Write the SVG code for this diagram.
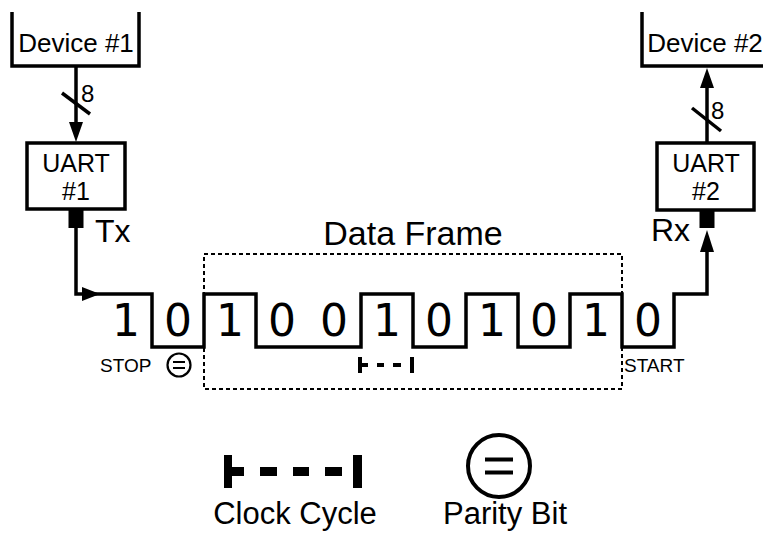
<svg xmlns="http://www.w3.org/2000/svg" width="763" height="534" viewBox="0 0 763 534">
  <style>
    .lbl { font-family: "Liberation Sans", Arial, sans-serif; fill: #000; }
    .bit { font-family: "DejaVu Sans", sans-serif; font-size: 44px; fill: #000; text-anchor: middle; }
    .wire { fill: none; stroke: #000; stroke-width: 3.5; stroke-linejoin: miter; }
    .box { fill: #fff; stroke: #000; stroke-width: 3.5; }
    .frame { fill: none; stroke: #000; stroke-width: 2; stroke-dasharray: 4 3; }
    .thin { fill: none; stroke: #000; stroke-width: 2.2; }
  </style>

  <!-- Device #1: open-top tray -->
  <g id="device1">
    <path class="wire" d="M12,12 V66 H139 V12"/>
    <text class="lbl" x="76" y="52" font-size="26" text-anchor="middle">Device #1</text>
  </g>

  <!-- Device #2: open-top tray, right edge runs off the canvas -->
  <g id="device2">
    <path class="wire" d="M642,12 V66 H772 V12"/>
    <text class="lbl" x="705" y="52" font-size="26" text-anchor="middle">Device #2</text>
  </g>

  <!-- UART #1 with Tx pin -->
  <g id="uart1">
    <rect class="box" x="27" y="143" width="98" height="66"/>
    <text class="lbl" x="76" y="172" font-size="25" text-anchor="middle">UART</text>
    <text class="lbl" x="76" y="200" font-size="25" text-anchor="middle">#1</text>
    <rect x="68.5" y="209" width="15" height="19" fill="#000"/>
    <text class="lbl" x="95" y="242" font-size="32">Tx</text>
  </g>

  <!-- UART #2 with Rx pin -->
  <g id="uart2">
    <rect class="box" x="657" y="143" width="97" height="67"/>
    <text class="lbl" x="706" y="172" font-size="25" text-anchor="middle">UART</text>
    <text class="lbl" x="706" y="200" font-size="25" text-anchor="middle">#2</text>
    <rect x="699.5" y="210" width="15" height="18" fill="#000"/>
    <text class="lbl" x="651" y="241" font-size="32">Rx</text>
  </g>

  <!-- Data frame boundary -->
  <g id="data-frame">
    <rect class="frame" x="204" y="254" width="418" height="135"/>
    <text class="lbl" x="413" y="245" font-size="34" text-anchor="middle">Data Frame</text>
  </g>

  <!-- Connectors: parallel buses and the serial line -->
  <g id="connectors">
    <!-- 8-bit bus Device #1 -> UART #1 -->
    <line class="wire" x1="76" y1="66" x2="76" y2="124"/>
    <polygon points="69,122 83,122 76,142" fill="#000"/>
    <line class="wire" x1="62" y1="93" x2="90" y2="114"/>
    <text class="lbl" x="81" y="102" font-size="24">8</text>

    <!-- 8-bit bus UART #2 -> Device #2 -->
    <line class="wire" x1="707" y1="143" x2="707" y2="86"/>
    <polygon points="700,88 714,88 707,68" fill="#000"/>
    <line class="wire" x1="692" y1="108" x2="721" y2="131"/>
    <text class="lbl" x="711" y="119" font-size="24">8</text>

    <!-- serial waveform from Tx to Rx -->
    <path class="wire" d="M76,228 V294 H152 V347 H204 V294 H256 V347 H361 V294 H413 V347 H466 V294 H518 V347 H570 V294 H622 V347 H674 V294 H707 V250"/>
    <polygon points="82,287 82,301 100,294" fill="#000"/>
    <polygon points="700,252 714,252 707,230" fill="#000"/>
  </g>

  <!-- Bit values -->
  <g id="bits">
    <text class="bit" x="126" y="336">1</text>
    <text class="bit" x="178" y="336">0</text>
    <text class="bit" x="230" y="336">1</text>
    <text class="bit" x="282" y="336">0</text>
    <text class="bit" x="334" y="336">0</text>
    <text class="bit" x="387" y="336">1</text>
    <text class="bit" x="439" y="336">0</text>
    <text class="bit" x="492" y="336">1</text>
    <text class="bit" x="544" y="336">0</text>
    <text class="bit" x="596" y="336">1</text>
    <text class="bit" x="648" y="336">0</text>
  </g>

  <!-- Bit annotations -->
  <g id="stop-label">
    <text class="lbl" x="100" y="372" font-size="19">STOP</text>
  </g>
  <g id="start-label">
    <text class="lbl" x="624" y="372" font-size="19">START</text>
  </g>
  <g id="parity-mark">
    <circle class="thin" cx="179" cy="365" r="11.5"/>
    <line x1="173" y1="362" x2="185" y2="362" stroke="#000" stroke-width="2"/>
    <line x1="173" y1="368" x2="185" y2="368" stroke="#000" stroke-width="2"/>
  </g>
  <g id="clock-mark" fill="#000">
    <rect x="358" y="357" width="4" height="16"/>
    <rect x="362" y="363" width="6" height="4"/>
    <rect x="377" y="363" width="7" height="4"/>
    <rect x="393" y="363" width="8" height="4"/>
    <rect x="410" y="357" width="4" height="16"/>
  </g>

  <!-- Legend -->
  <g id="legend-clock">
    <g fill="#000">
      <rect x="224" y="455" width="8" height="33"/>
      <rect x="232" y="467" width="12" height="9"/>
      <rect x="260" y="467" width="17" height="9"/>
      <rect x="293" y="467" width="16" height="9"/>
      <rect x="325" y="467" width="17" height="9"/>
      <rect x="353" y="455" width="9" height="33"/>
    </g>
    <text class="lbl" x="295" y="524" font-size="31" text-anchor="middle">Clock Cycle</text>
  </g>
  <g id="legend-parity">
    <circle cx="499" cy="466" r="31" fill="none" stroke="#000" stroke-width="4"/>
    <line x1="485" y1="459.5" x2="513" y2="459.5" stroke="#000" stroke-width="4"/>
    <line x1="485" y1="472.5" x2="513" y2="472.5" stroke="#000" stroke-width="4"/>
    <text class="lbl" x="505" y="524" font-size="31" text-anchor="middle">Parity Bit</text>
  </g>
</svg>
